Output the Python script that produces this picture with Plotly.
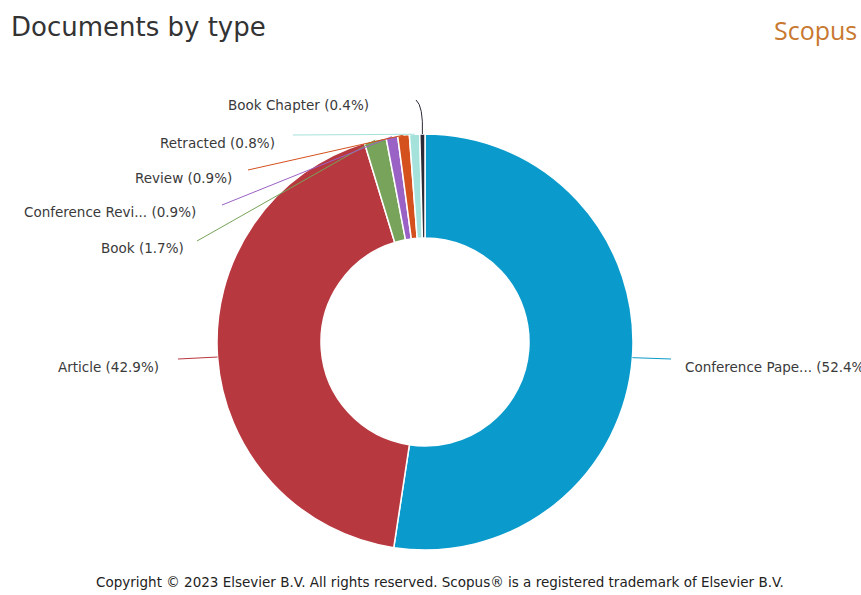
import math
import plotly.graph_objects as go

# Document types and their share of the total (%)
categories = ["Conference Paper", "Article", "Book", "Conference Review",
              "Review", "Retracted", "Book Chapter"]
label_names = ["Conference Pape...", "Article", "Book", "Conference Revi...",
               "Review", "Retracted", "Book Chapter"]
percent = [52.4, 42.9, 1.7, 0.9, 0.9, 0.8, 0.4]
colors = ["#0a9bcc", "#b8383f", "#77a35a", "#9a62c4", "#d4501c", "#a6e2dc", "#2a2a38"]

W, H = 861, 595
CX, CY, R = 425, 342, 208   # donut centre and outer radius in pixels

# label placement (pixels): leader end point, text anchor point, text side
leader_end = [(671, 359), (178, 359), (197, 241), (222, 205), (248, 170), (293, 135), (416, 100)]
text_anchor = [(683, 367), (161, 367), (186, 248), (198, 212), (234, 178), (277, 143), (371, 105)]
text_side = ["left", "right", "right", "right", "right", "right", "right"]


def px(x):
    return x / W


def py(y):
    return 1 - y / H


fig = go.Figure()
fig.add_trace(go.Pie(
    labels=categories,
    values=percent,
    sort=False,
    direction="clockwise",
    rotation=0,
    hole=0.5,
    marker=dict(colors=colors, line=dict(color="white", width=1.5)),
    textinfo="none",
    hoverinfo="label+percent",
    showlegend=False,
    domain=dict(x=[px(CX - R), px(CX + R)], y=[py(CY + R), py(CY - R)]),
))

shapes = []
annotations = []
total = sum(percent)
cum = 0.0
for name, val, col, end, anc, side in zip(label_names, percent, colors,
                                           leader_end, text_anchor, text_side):
    mid = (cum + val / 2) / total * 2 * math.pi
    cum += val
    sx = CX + R * math.sin(mid)
    sy = CY - R * math.cos(mid)
    ex, ey = end
    if name == "Book Chapter":
        path = (f"M {px(sx)},{py(sy)} Q {px(sx + 1)},{py(ey + 6)} {px(ex)},{py(ey)}")
        shapes.append(dict(type="path", xref="paper", yref="paper", path=path,
                           line=dict(color=col, width=1)))
    else:
        shapes.append(dict(type="line", xref="paper", yref="paper",
                           x0=px(sx), y0=py(sy), x1=px(ex), y1=py(ey),
                           line=dict(color=col, width=1)))
    annotations.append(dict(
        x=px(anc[0]), y=py(anc[1]), xref="paper", yref="paper",
        text=f"{name} ({val}%)", showarrow=False,
        xanchor=side, yanchor="middle",
        font=dict(family="DejaVu Sans", size=13.5, color="#3a3a3a"),
    ))

annotations += [
    dict(x=px(9), y=py(27), xref="paper", yref="paper", text="Documents by type",
         showarrow=False, xanchor="left", yanchor="middle",
         font=dict(family="DejaVu Sans", size=26, color="#333333")),
    dict(x=px(859), y=py(30), xref="paper", yref="paper", text="Scopus",
         showarrow=False, xanchor="right", yanchor="middle",
         font=dict(family="Open Sans", size=25, color="#c8782f")),
    dict(x=px(440), y=py(582), xref="paper", yref="paper",
         text="Copyright \u00a9 2023 Elsevier B.V. All rights reserved. Scopus\u00ae is a registered trademark of Elsevier B.V.",
         showarrow=False, xanchor="center", yanchor="middle",
         font=dict(family="DejaVu Sans", size=13.5, color="#222222")),
]

fig.update_layout(
    width=W, height=H,
    margin=dict(l=0, r=0, t=0, b=0),
    paper_bgcolor="white",
    plot_bgcolor="white",
    shapes=shapes,
    annotations=annotations,
)

fig.write_html("out.html")
